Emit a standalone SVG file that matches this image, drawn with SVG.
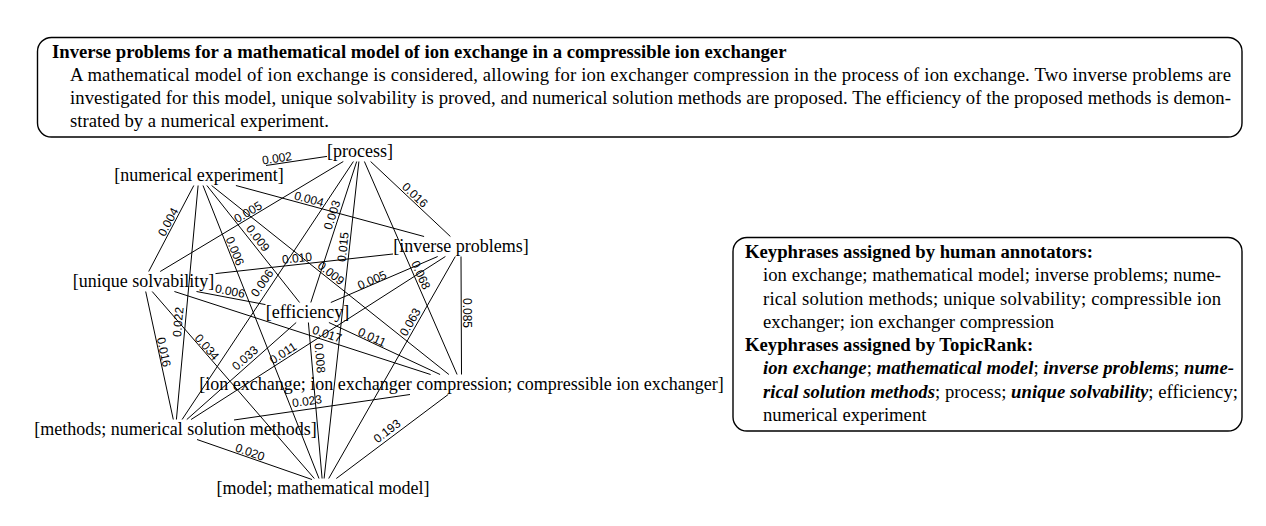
<svg xmlns="http://www.w3.org/2000/svg" width="1266" height="526" viewBox="0 0 1266 526">
<style>
.box{fill:#fff;stroke:#000;stroke-width:1.4}
.t{font-family:"Liberation Serif",serif;font-size:18.7px;fill:#000}
.b{font-weight:bold}
.bi{font-weight:bold;font-style:italic}
.n{font-family:"Liberation Serif",serif;font-size:18px;fill:#000;text-anchor:middle}
.el{font-family:"Liberation Sans",sans-serif;font-size:12px;fill:#000;text-anchor:middle}
#connectors line{stroke:#000;stroke-width:1;fill:none}
</style>
<rect width="1266" height="526" fill="#fff"/>
<g id="abstract">
<rect class="box" x="37.5" y="37.5" width="1204.5" height="99.5" rx="14"/>
<text class="t b" x="52" y="58">Inverse problems for a mathematical model of ion exchange in a compressible ion exchanger</text>
<text class="t" x="70" y="81" textLength="1161" lengthAdjust="spacing">A mathematical model of ion exchange is considered, allowing for ion exchanger compression in the process of ion exchange. Two inverse problems are</text>
<text class="t" x="70" y="104" textLength="1161" lengthAdjust="spacing">investigated for this model, unique solvability is proved, and numerical solution methods are proposed. The efficiency of the proposed methods is demon-</text>
<text class="t" x="70" y="127">strated by a numerical experiment.</text>
</g>
<g id="keyphrases">
<rect class="box" x="733" y="237.5" width="509" height="193.5" rx="14"/>
<text class="t b" x="745" y="258">Keyphrases assigned by human annotators:</text>
<text class="t" x="763" y="281" textLength="458" lengthAdjust="spacing">ion exchange; mathematical model; inverse problems; nume-</text>
<text class="t" x="763" y="305" textLength="458" lengthAdjust="spacing">rical solution methods; unique solvability; compressible ion</text>
<text class="t" x="763" y="328">exchanger; ion exchanger compression</text>
<text class="t b" x="745" y="351">Keyphrases assigned by TopicRank:</text>
<text class="t" x="763" y="374" textLength="471" lengthAdjust="spacing"><tspan class="bi">ion exchange</tspan>; <tspan class="bi">mathematical model</tspan>; <tspan class="bi">inverse problems</tspan>; <tspan class="bi">nume-</tspan></text>
<text class="t" x="763" y="398" textLength="475" lengthAdjust="spacing"><tspan class="bi">rical solution methods</tspan>; process; <tspan class="bi">unique solvability</tspan>; efficiency;</text>
<text class="t" x="763" y="421">numerical experiment</text>
</g>
<g id="connectors">
<g id="e-process-numexp"><line x1="327" y1="156.4" x2="266.1" y2="165.5"/><text class="el" transform="translate(277,158) rotate(-8.5)" dy="0.35em">0.002</text></g>
<g id="e-process-unique"><line x1="343.3" y1="161.5" x2="160.2" y2="271.5"/><text class="el" transform="translate(248,212) rotate(-31)" dy="0.35em">0.005</text></g>
<g id="e-process-inverse"><line x1="370.6" y1="161.5" x2="450.4" y2="236.5"/><text class="el" transform="translate(415,195) rotate(43)" dy="0.35em">0.016</text></g>
<g id="e-process-efficiency"><line x1="356.7" y1="161.5" x2="310.8" y2="302.5"/><text class="el" transform="translate(332,215) rotate(-72)" dy="0.35em">0.003</text></g>
<g id="e-process-model"><line x1="358.9" y1="161.5" x2="324.1" y2="478.5"/><text class="el" transform="translate(343,247) rotate(-84)" dy="0.35em">0.015</text></g>
<g id="e-process-methods"><line x1="353.4" y1="161.5" x2="182.1" y2="419.5"/><text class="el" transform="translate(262,283) rotate(-56)" dy="0.35em">0.006</text></g>
<g id="e-process-ionex"><line x1="364.4" y1="161.5" x2="457.1" y2="374.5"/><text class="el" transform="translate(421,275) rotate(66)" dy="0.35em">0.068</text></g>
<g id="e-numexp-unique"><line x1="193.8" y1="185.5" x2="148.7" y2="271.5"/><text class="el" transform="translate(168,222) rotate(-62)" dy="0.35em">0.004</text></g>
<g id="e-numexp-inverse"><line x1="235.9" y1="185.5" x2="424.1" y2="236.5"/><text class="el" transform="translate(309,199) rotate(15)" dy="0.35em">0.004</text></g>
<g id="e-numexp-efficiency"><line x1="206.9" y1="185.5" x2="299.6" y2="302.5"/><text class="el" transform="translate(258,238) rotate(52)" dy="0.35em">0.009</text></g>
<g id="e-numexp-ionex"><line x1="211.6" y1="185.5" x2="448.9" y2="374.5"/><text class="el" transform="translate(331,273) rotate(38.5)" dy="0.35em">0.009</text></g>
<g id="e-numexp-methods"><line x1="198.1" y1="185.5" x2="176.4" y2="419.5"/><text class="el" transform="translate(178,322) rotate(-85)" dy="0.35em">0.022</text></g>
<g id="e-numexp-model"><line x1="203" y1="185.5" x2="319" y2="478.5"/><text class="el" transform="translate(235,251) rotate(68)" dy="0.35em">0.006</text></g>
<g id="e-inverse-unique"><line x1="393" y1="254" x2="215.5" y2="273.6"/><text class="el" transform="translate(297,258) rotate(-6.3)" dy="0.35em">0.010</text></g>
<g id="e-inverse-efficiency"><line x1="437.7" y1="256.5" x2="330.8" y2="302.5"/><text class="el" transform="translate(372,280) rotate(-23)" dy="0.35em">0.005</text></g>
<g id="e-inverse-ionex"><line x1="461" y1="256.5" x2="461.5" y2="374.5"/><text class="el" transform="translate(467,313) rotate(90)" dy="0.35em">0.085</text></g>
<g id="e-inverse-methods"><line x1="445.4" y1="256.5" x2="191.1" y2="419.5"/><text class="el" transform="translate(283,353) rotate(-33)" dy="0.35em">0.011</text></g>
<g id="e-inverse-model"><line x1="455.3" y1="256.5" x2="328.7" y2="478.5"/><text class="el" transform="translate(410,322) rotate(-60)" dy="0.35em">0.063</text></g>
<g id="e-unique-efficiency"><line x1="196.5" y1="291.5" x2="265.5" y2="304.6"/><text class="el" transform="translate(230,291) rotate(11)" dy="0.35em">0.006</text></g>
<g id="e-unique-ionex"><line x1="174.4" y1="291.5" x2="430.6" y2="374.5"/><text class="el" transform="translate(327,334) rotate(18)" dy="0.35em">0.017</text></g>
<g id="e-unique-methods"><line x1="145.7" y1="291.5" x2="173.3" y2="419.5"/><text class="el" transform="translate(164,352) rotate(78)" dy="0.35em">0.016</text></g>
<g id="e-unique-model"><line x1="152.2" y1="291.5" x2="314.3" y2="478.5"/><text class="el" transform="translate(207,347) rotate(49)" dy="0.35em">0.034</text></g>
<g id="e-efficiency-ionex"><line x1="328.9" y1="322.5" x2="440.1" y2="374.5"/><text class="el" transform="translate(372,337) rotate(25)" dy="0.35em">0.011</text></g>
<g id="e-efficiency-methods"><line x1="296.2" y1="322.5" x2="186.8" y2="419.5"/><text class="el" transform="translate(245,358) rotate(-41.5)" dy="0.35em">0.033</text></g>
<g id="e-efficiency-model"><line x1="308.4" y1="322.5" x2="322.1" y2="478.5"/><text class="el" transform="translate(320,358) rotate(85)" dy="0.35em">0.008</text></g>
<g id="e-ionex-methods"><line x1="410" y1="394.5" x2="234" y2="420"/><text class="el" transform="translate(307,401) rotate(-8.3)" dy="0.35em">0.023</text></g>
<g id="e-ionex-model"><line x1="448.2" y1="394.5" x2="336.3" y2="478.5"/><text class="el" transform="translate(387,431) rotate(-37)" dy="0.35em">0.193</text></g>
<g id="e-methods-model"><line x1="197" y1="439.5" x2="312" y2="479.5"/><text class="el" transform="translate(250,452) rotate(19.5)" dy="0.35em">0.020</text></g>
</g>
<g id="node-process"><text class="n" x="360" y="157">[process]</text></g>
<g id="node-numerical-experiment"><text class="n" x="199" y="181">[numerical experiment]</text></g>
<g id="node-inverse-problems"><text class="n" x="461" y="252">[inverse problems]</text></g>
<g id="node-unique-solvability"><text class="n" x="143.5" y="287">[unique solvability]</text></g>
<g id="node-efficiency"><text class="n" x="307.5" y="318">[efficiency]</text></g>
<g id="node-ion-exchange"><text class="n" x="461.5" y="390">[ion exchange; ion exchanger compression; compressible ion exchanger]</text></g>
<g id="node-methods"><text class="n" x="175.5" y="435">[methods; numerical solution methods]</text></g>
<g id="node-model"><text class="n" x="323" y="494">[model; mathematical model]</text></g>
</svg>
